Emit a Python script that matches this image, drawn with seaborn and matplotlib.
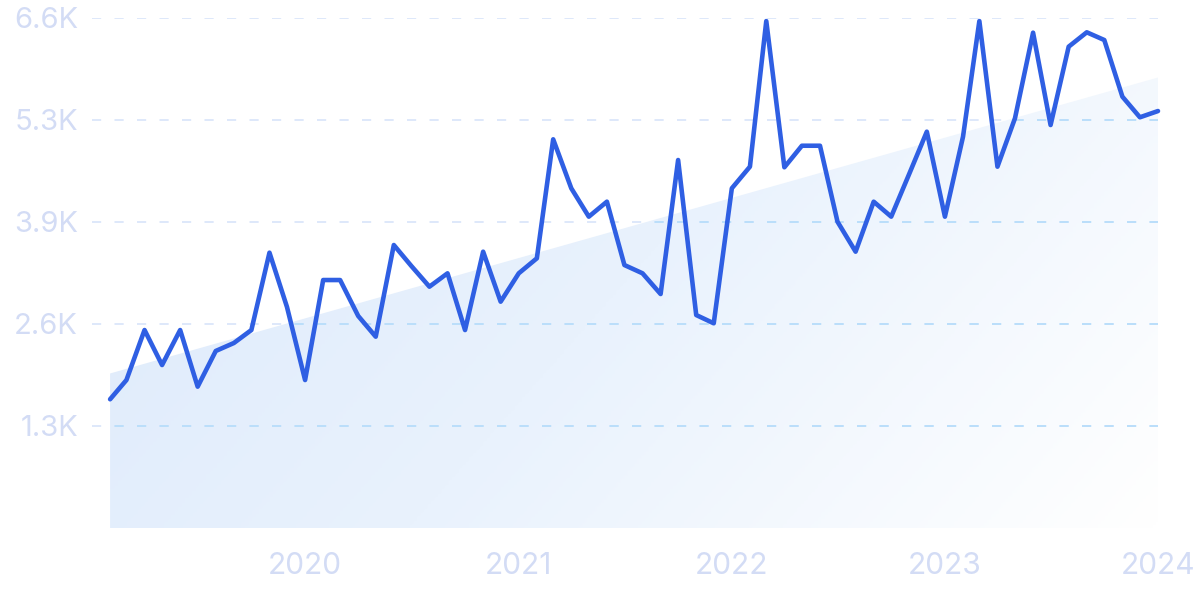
import numpy as np
import pandas as pd
import matplotlib
matplotlib.use("Agg")
import matplotlib.pyplot as plt
import matplotlib.dates as mdates
from matplotlib.colors import LinearSegmentedColormap
import seaborn as sns

# datos mensuales (feb 2019 - ene 2024)
months = pd.date_range("2019-02-01", "2024-01-01", freq="MS")
values = [1666, 1915, 2562, 2109, 2562, 1829, 2291, 2394, 2562, 3563,
          2860, 1915, 3209, 3209, 2744, 2476, 3662, 3391, 3123, 3296,
          2562, 3576, 2929, 3296, 3490, 5030, 4396, 4029, 4223, 3403,
          3296, 3028, 4762, 2756, 2649, 4396, 4676, 6560, 4668, 4947,
          4947, 3964, 3576, 4223, 4029, 4585, 5129, 4029, 5064, 6560,
          4676, 5302, 6410, 5215, 6229, 6415, 6315, 5582, 5315, 5396]

# linea de tendencia (inicio y fin)
trend_values = [2000, 5830]

y_ticks = [1320, 2640, 3960, 5280, 6600]
y_labels = ["1.3K", "2.6K", "3.9K", "5.3K", "6.6K"]
x_years = ["2020", "2021", "2022", "2023", "2024"]

sns.set_theme(style="white")
plt.rcParams["font.family"] = ["Inter", "DejaVu Sans"]

df = pd.DataFrame({"month": months, "value": values})

fig = plt.figure(figsize=(12, 6), dpi=100)
ax = fig.add_axes([92 / 1200, 72 / 600, (1158 - 92) / 1200, 510 / 600])

x_left = pd.Timestamp("2019-01-01")
x_right = months[-1]

# area de tendencia con degradado
trend_x = [months[0], months[-1]]
poly = ax.fill_between(trend_x, trend_values, 0, color="none", lw=0)
cmap = LinearSegmentedColormap.from_list("fondo", ["#dce9fb", "#e9f2fd", "#ffffff"])
xx, yy = np.meshgrid(np.linspace(0, 1, 300), np.linspace(0, 1, 300))
grad = 0.7 * xx + 0.3 * yy
x0 = mdates.date2num(months[0])
x1 = mdates.date2num(months[-1])
img = ax.imshow(grad, cmap=cmap, aspect="auto", extent=[x0, x1, 0, 6600],
                origin="upper", zorder=1, interpolation="bilinear")
img.set_clip_path(poly.get_paths()[0], transform=ax.transData)
ax.set_xlim(x_left, x_right)
ax.set_ylim(0, 6600)

# lineas de cuadricula punteadas
for yt in y_ticks:
    ax.axhline(yt, color="#d8e4fa", lw=1.2, linestyle=(0, (5.5, 8)), zorder=2)
    gl = ax.axhline(yt, color="#b5ddfb", lw=1.2, linestyle=(0, (5.5, 8)), zorder=2.1)
    gl.set_clip_path(poly.get_paths()[0], transform=ax.transData)

sns.lineplot(data=df, x="month", y="value", color="#2f5fe3", lw=3.3, ax=ax,
             zorder=3, clip_on=False)
for ln in ax.get_lines()[-1:]:
    ln.set_solid_joinstyle("round")
    ln.set_solid_capstyle("round")

ax.set_yticks(y_ticks)
ax.set_yticklabels(y_labels)
ax.set_xticks([pd.Timestamp(f"{y}-01-01") for y in x_years])
ax.set_xticklabels(x_years)
ax.tick_params(axis="y", length=0, pad=10, labelsize=21, labelcolor="#d3dcf5")
ax.tick_params(axis="x", length=0, pad=17, labelsize=21.5, labelcolor="#d3dcf5")
for lab in ax.get_yticklabels():
    lab.set_va("center_baseline")
ax.set_xlabel("")
ax.set_ylabel("")
ax.grid(False)
sns.despine(ax=ax, left=True, bottom=True)

fig.savefig("out.png", dpi=100)
